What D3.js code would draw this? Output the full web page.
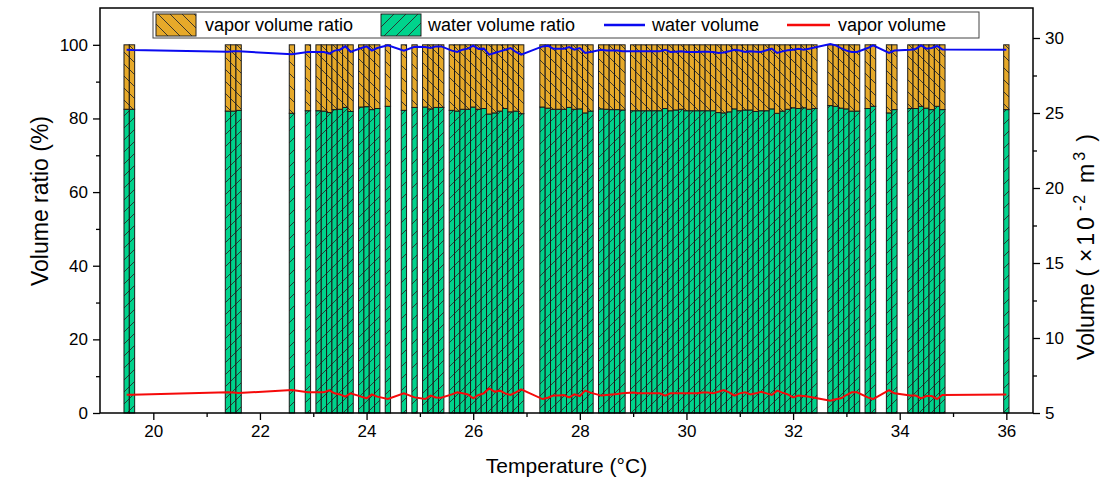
<!DOCTYPE html>
<html><head><meta charset="utf-8">
<script src="https://cdn.jsdelivr.net/npm/d3@7"></script>
<style>
html,body{margin:0;padding:0;background:#fff;}
svg text{font-family:Arial,"Liberation Sans",sans-serif;fill:#000;}
</style></head>
<body><svg id="chart" width="1105" height="484"></svg>
<script>
// ---- data ----
const temps = [19.5,19.6,
 21.4,21.5,21.6,
 22.6,22.9,
 23.1,23.2,23.3,23.4,23.5,23.6,23.7,
 23.9,24.0,24.1,24.2,
 24.4,24.7,24.9,
 25.1,25.2,25.3,25.4,
 25.6,25.7,25.8,25.9,26.0,26.1,26.2,26.3,26.4,26.5,26.6,26.7,26.8,26.9,
 27.3,27.4,27.5,27.6,27.7,27.8,27.9,28.0,28.1,28.2,
 28.4,28.5,28.6,28.7,28.8,
 29.0,29.1,29.2,29.3,29.4,29.5,29.6,29.7,29.8,29.9,30.0,30.1,30.2,30.3,30.4,30.5,30.6,30.7,30.8,30.9,31.0,31.1,31.2,31.3,31.4,31.5,31.6,31.7,31.8,31.9,32.0,32.1,32.2,32.3,32.4,
 32.7,32.8,32.9,33.0,33.1,33.2,
 33.4,33.5,
 33.8,33.9,
 34.2,34.3,34.4,34.5,34.6,34.7,34.8,
 36.0];

const waterRatio = [82.5,82.5,
 82.0,82.0,82.2,
 81.4,82.1,
 82.1,82.0,81.6,82.4,82.5,83.0,81.9,
 83.1,83.2,82.4,82.7,
 83.3,82.2,83.0,
 83.1,82.6,83.0,83.0,
 82.2,82.0,82.5,82.5,83.1,82.5,82.7,81.2,81.5,82.0,82.7,81.8,82.0,81.3,
 83.1,82.8,82.5,82.5,82.5,83.0,82.5,82.6,81.5,82.0,
 82.6,82.5,82.4,82.4,82.3,
 82.1,82.1,82.1,82.1,82.1,82.1,82.7,82.1,82.3,82.5,82.1,82.1,82.1,82.1,82.1,82.1,81.6,81.5,81.8,82.6,82.1,82.3,82.3,81.9,82.1,82.1,82.6,81.4,82.0,82.5,82.9,82.7,82.9,82.5,82.7,
 83.5,83.3,82.8,82.6,82.0,82.0,
 82.7,83.3,
 81.5,82.4,
 82.7,82.7,83.3,82.8,82.4,83.3,82.4,
 82.4];

const vaporRatio = [17.5,17.5,
 18.0,18.0,17.8,
 18.6,17.9,
 17.9,18.0,18.4,17.6,17.5,17.0,18.1,
 16.9,16.8,17.6,17.3,
 16.7,17.8,17.0,
 16.9,17.4,17.0,17.0,
 17.8,18.0,17.5,17.5,16.9,17.5,17.3,18.8,18.5,18.0,17.3,18.2,18.0,18.7,
 16.9,17.2,17.5,17.5,17.5,17.0,17.5,17.4,18.5,18.0,
 17.4,17.5,17.6,17.6,17.7,
 17.9,17.9,17.9,17.9,17.9,17.9,17.3,17.9,17.7,17.5,17.9,17.9,17.9,17.9,17.9,17.9,18.4,18.5,18.2,17.4,17.9,17.7,17.7,18.1,17.9,17.9,17.4,18.6,18.0,17.5,17.1,17.3,17.1,17.5,17.3,
 16.5,16.7,17.2,17.4,18.0,18.0,
 17.3,16.7,
 18.5,17.6,
 17.3,17.3,16.7,17.2,17.6,16.7,17.6,
 17.6];

const waterVolume = [29.22,29.20,
 29.09,29.11,29.11,
 28.91,29.07,
 29.07,29.07,28.96,29.16,29.22,29.44,29.07,
 29.33,29.44,29.16,29.33,
 29.51,29.16,29.42,
 29.40,29.33,29.44,29.44,
 29.16,29.07,29.22,29.29,29.49,29.27,29.29,28.89,29.00,29.11,29.22,29.33,29.07,28.89,
 29.44,29.49,29.29,29.29,29.29,29.40,29.22,29.33,29.00,29.07,
 29.22,29.16,29.16,29.16,29.11,
 29.11,29.11,29.11,29.11,29.11,29.11,29.22,29.07,29.09,29.11,29.07,29.07,29.07,29.09,29.09,29.07,29.00,29.04,29.11,29.22,29.16,29.07,29.11,29.09,29.07,29.18,29.29,29.00,29.11,29.18,29.22,29.29,29.22,29.29,29.36,
 29.60,29.51,29.33,29.16,29.07,29.07,
 29.33,29.51,
 29.00,29.16,
 29.22,29.27,29.51,29.29,29.33,29.47,29.24,
 29.22];

const vaporVolume = [6.22,6.22,
 6.38,6.36,6.33,
 6.53,6.38,
 6.38,6.38,6.51,6.31,6.24,6.09,6.31,
 6.09,5.98,6.24,6.09,
 5.93,6.31,6.04,
 5.93,6.16,6.04,6.02,
 6.24,6.38,6.31,6.24,5.98,6.20,6.31,6.64,6.42,6.49,6.31,6.20,6.38,6.58,
 5.93,6.02,6.16,6.16,6.20,6.04,6.24,6.13,6.49,6.36,
 6.16,6.20,6.24,6.27,6.31,
 6.36,6.31,6.31,6.31,6.31,6.31,6.16,6.31,6.31,6.31,6.31,6.31,6.31,6.36,6.36,6.31,6.42,6.53,6.38,6.16,6.31,6.38,6.24,6.31,6.42,6.31,6.20,6.49,6.36,6.24,6.04,6.16,6.13,6.09,6.02,
 5.82,5.91,5.98,6.20,6.38,6.38,
 6.04,5.93,
 6.53,6.31,
 6.16,6.16,5.98,6.13,6.13,5.93,6.20,
 6.24];

const xTicks = [20,22,24,26,28,30,32,34,36];
const yLeftTicks = [0,20,40,60,80,100];
const yRightTicks = [5,10,15,20,25,30];
const legendLabels = ["vapor volume ratio","water volume ratio","water volume","vapor volume"];
const barWidth = 0.1; // °C, spacing of the temperature steps

// ---- layout ----
const M = {left:100, right:1033, top:8, bottom:413};
const ORANGE = "#E6A92A", GREEN = "#00D38C", BLUE = "#0A0AF0", RED = "#F50A0A";

const svg = d3.select("#chart");
const x = d3.scaleLinear().domain([19, 36.5]).range([M.left, M.right]);
const yL = d3.scaleLinear().domain([0, 110]).range([M.bottom, M.top]);
const yR = d3.scaleLinear().domain([5, 32]).range([M.bottom, M.top]);

// patterns
const defs = svg.append("defs");
function hatch(id, fill, dir){
  const p = defs.append("pattern").attr("id", id).attr("patternUnits","userSpaceOnUse")
    .attr("width", 12).attr("height", 12);
  p.append("rect").attr("width",12).attr("height",12).attr("fill",fill);
  const d = dir === "back" ? "M-3,-3L15,15M-3,9L3,15M9,-3L15,3" : "M-3,15L15,-3M-3,3L3,-3M9,15L15,9";
  p.append("path").attr("d", d).attr("stroke","#2a2a2a").attr("stroke-width",0.9).attr("fill","none");
}
hatch("hVapor", ORANGE, "back");
hatch("hWater", GREEN, "fwd");

const data = temps.map((t,i)=>({t, w:waterRatio[i], v:vaporRatio[i], wv:waterVolume[i], vv:vaporVolume[i]}));

// bars
const gb = svg.append("g");
gb.selectAll("rect.w").data(data).join("rect").attr("class","w")
  .attr("x", d=>x(d.t - barWidth/2)).attr("width", d=>x(d.t + barWidth/2) - x(d.t - barWidth/2))
  .attr("y", d=>yL(d.w)).attr("height", d=>yL(0) - yL(d.w))
  .attr("fill","url(#hWater)").attr("stroke","#1a1a1a").attr("stroke-width",1);
gb.selectAll("rect.v").data(data).join("rect").attr("class","v")
  .attr("x", d=>x(d.t - barWidth/2)).attr("width", d=>x(d.t + barWidth/2) - x(d.t - barWidth/2))
  .attr("y", d=>yL(d.w + d.v)).attr("height", d=>yL(d.w) - yL(d.w + d.v))
  .attr("fill","url(#hVapor)").attr("stroke","#1a1a1a").attr("stroke-width",1);

// lines
const lw = d3.line().x(d=>x(d.t)).y(d=>yR(d.wv));
const lv = d3.line().x(d=>x(d.t)).y(d=>yR(d.vv));
svg.append("path").datum(data).attr("d", lw).attr("fill","none").attr("stroke",BLUE).attr("stroke-width",2);
svg.append("path").datum(data).attr("d", lv).attr("fill","none").attr("stroke",RED).attr("stroke-width",2);

// axes
const fs = "17px";
const xMinor = d3.range(21, 36, 2);
svg.append("g").attr("transform",`translate(0,${M.bottom})`)
  .call(d3.axisBottom(x).tickValues(xTicks).tickFormat(d3.format("d")).tickSize(7).tickPadding(5));
svg.append("g").attr("transform",`translate(0,${M.bottom})`)
  .call(d3.axisBottom(x).tickValues(xMinor).tickFormat("").tickSize(4));
svg.append("g").attr("transform",`translate(${M.left},0)`)
  .call(d3.axisLeft(yL).tickValues(yLeftTicks).tickSize(7).tickPadding(5));
svg.append("g").attr("transform",`translate(${M.left},0)`)
  .call(d3.axisLeft(yL).tickValues([10,30,50,70,90]).tickFormat("").tickSize(4));
svg.append("g").attr("transform",`translate(${M.right},0)`)
  .call(d3.axisRight(yR).tickValues(yRightTicks).tickSize(7).tickPadding(5));
svg.append("g").attr("transform",`translate(${M.right},0)`)
  .call(d3.axisRight(yR).tickValues([7.5,12.5,17.5,22.5,27.5]).tickFormat("").tickSize(4));
svg.selectAll(".domain").remove();
svg.selectAll(".tick line").attr("stroke","#000").attr("stroke-width",1.3);
svg.selectAll(".tick text").style("font-size", fs).style("font-family","Arial, 'Liberation Sans', sans-serif");

// frame
svg.append("rect").attr("x",M.left).attr("y",M.top).attr("width",M.right-M.left).attr("height",M.bottom-M.top)
  .attr("fill","none").attr("stroke","#000").attr("stroke-width",1.5);

// titles
svg.append("text").attr("x",(M.left+M.right)/2).attr("y",473).attr("text-anchor","middle")
  .style("font-size","21px").text("Temperature (°C)");
svg.append("text").attr("transform","translate(48,201) rotate(-90)").attr("text-anchor","middle")
  .style("font-size","23px").text("Volume ratio (%)");
const rt = svg.append("text").attr("transform","translate(1094,247) rotate(-90)").attr("text-anchor","middle")
  .style("font-size","23px");
rt.append("tspan").text("Volume (");
rt.append("tspan").attr("dx",7).style("letter-spacing","3px").text("\u00D710");
rt.append("tspan").attr("dx",3).attr("dy",-9).style("font-size","16px").style("letter-spacing","2px").text("-2");
rt.append("tspan").attr("dx",10).attr("dy",9).text("m");
rt.append("tspan").attr("dx",3).attr("dy",-9).style("font-size","16px").text("3");
rt.append("tspan").attr("dx",10).attr("dy",9).text(")");

// legend
const lg = svg.append("g");
lg.append("rect").attr("x",153).attr("y",12).attr("width",826).attr("height",26)
  .attr("fill","#fff").attr("stroke","#444").attr("stroke-width",1);
lg.append("rect").attr("x",156).attr("y",14).attr("width",40).attr("height",22).attr("fill","url(#hVapor)").attr("stroke","#222");
lg.append("text").attr("x",205).attr("y",31).style("font-size","18px").text(legendLabels[0]);
lg.append("rect").attr("x",381).attr("y",14).attr("width",40).attr("height",22).attr("fill","url(#hWater)").attr("stroke","#222");
lg.append("text").attr("x",428).attr("y",31).style("font-size","18px").text(legendLabels[1]);
lg.append("line").attr("x1",604).attr("x2",645).attr("y1",25).attr("y2",25).attr("stroke",BLUE).attr("stroke-width",2.5);
lg.append("text").attr("x",652).attr("y",31).style("font-size","18px").text(legendLabels[2]);
lg.append("line").attr("x1",787).attr("x2",830).attr("y1",25).attr("y2",25).attr("stroke",RED).attr("stroke-width",2.5);
lg.append("text").attr("x",838).attr("y",31).style("font-size","18px").text(legendLabels[3]);
</script></body></html>
